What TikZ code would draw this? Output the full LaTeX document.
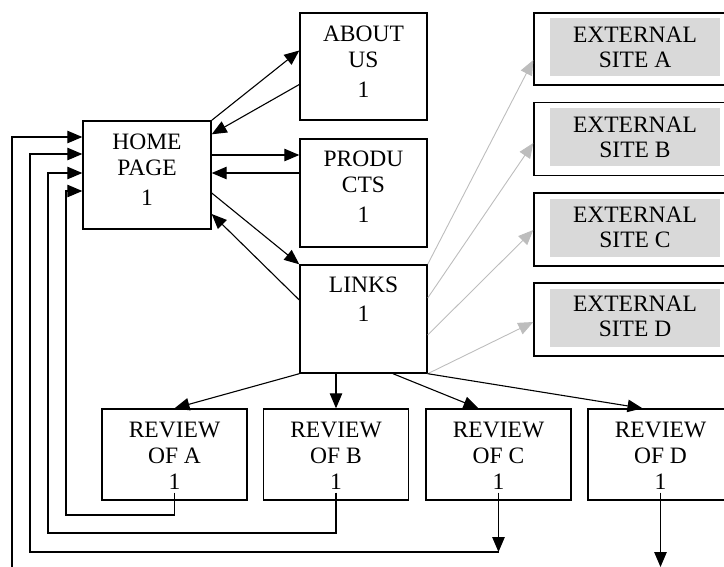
\documentclass[tikz,border=0pt]{standalone}
\usepackage{fontspec}
\setmainfont{Liberation Serif}
\usetikzlibrary{arrows.meta}
\definecolor{extfill}{HTML}{D9D9D9}
\definecolor{extline}{HTML}{BDBDBD}
\begin{document}
\begin{tikzpicture}[x=1pt,y=-1pt,
  box/.style={draw=black, line width=1.4pt, inner sep=0pt, fill=white},
  graybox/.style={fill=extfill, draw=none, inner sep=0pt, minimum width=170pt, minimum height=58pt},
  lbl/.style={inner sep=0pt, align=center, anchor=north, font=\fontsize{23.5}{26}\selectfont},
  arr/.style={draw=black, line width=1.1pt, -{Triangle[length=15pt,width=12.5pt]}},
  garr/.style={draw=extline, line width=0.9pt, -{Triangle[length=15pt,width=12.5pt]}},
  plain/.style={draw=black, line width=1pt}]
\useasboundingbox (0,0) rectangle (724,566);
\clip (0,0) rectangle (724,566);
% main boxes
\node[box, minimum width=128pt, minimum height=108pt] (home) at (147,175) {};
\node[box, minimum width=127pt, minimum height=107pt] (about) at (363.5,66.5) {};
\node[box, minimum width=127pt, minimum height=108pt] (prod) at (363.5,193) {};
\node[box, minimum width=127pt, minimum height=108pt] (links) at (363.5,319) {};
\node[lbl] (homeT) at ([yshift=-13.5pt]home.north) {HOME\\PAGE\\[4pt]1};
\node[lbl] (aboutT) at ([yshift=-13.5pt]about.north) {ABOUT\\US\\[4pt]1};
\node[lbl] (prodT) at ([yshift=-12.5pt]prod.north) {PRODU\\CTS\\[4pt]1};
\node[lbl] (linksT) at ([yshift=-12.5pt]links.north) {LINKS\\[3pt]1};
% external sites
\node[box, minimum width=202pt, minimum height=72pt] (extA) at (635,49) {};
\node[box, minimum width=202pt, minimum height=73pt] (extB) at (635,139) {};
\node[box, minimum width=202pt, minimum height=73pt] (extC) at (635,229.5) {};
\node[box, minimum width=202pt, minimum height=73pt] (extD) at (635,319.5) {};
\node[graybox] (gA) at (635,47) {};
\node[graybox] (gB) at (635,137) {};
\node[graybox] (gC) at (635,227.5) {};
\node[graybox] (gD) at (635,318) {};
\node[lbl] (extAT) at ([yshift=-14.5pt]extA.north) {EXTERNAL\\[-1pt]SITE A};
\node[lbl] (extBT) at ([yshift=-14.5pt]extB.north) {EXTERNAL\\[-1pt]SITE B};
\node[lbl] (extCT) at ([yshift=-14pt]extC.north) {EXTERNAL\\[-1pt]SITE C};
\node[lbl] (extDT) at ([yshift=-13.5pt]extD.north) {EXTERNAL\\[-1pt]SITE D};
% reviews
\node[box, minimum width=145pt, minimum height=91pt] (revA) at (174.5,454.5) {};
\node[box, minimum width=145pt, minimum height=91pt] (revB) at (336,454.5) {};
\node[box, minimum width=145pt, minimum height=91pt] (revC) at (498.5,454.5) {};
\node[box, minimum width=145pt, minimum height=91pt] (revD) at (660.5,454.5) {};
\node[lbl] (revAT) at ([yshift=-13.5pt]revA.north) {REVIEW\\OF A\\1};
\node[lbl] (revBT) at ([yshift=-13.5pt]revB.north) {REVIEW\\OF B\\1};
\node[lbl] (revCT) at ([yshift=-13.5pt]revC.north) {REVIEW\\OF C\\1};
\node[lbl] (revDT) at ([yshift=-13.5pt]revD.north) {REVIEW\\OF D\\1};
% home <-> pages
\draw[arr] (home.north east) -- ([yshift=16pt]about.west);
\draw[arr] ([yshift=-18pt]about.west) -- ([yshift=-14pt]home.north east);
\draw[arr] ([yshift=20pt]home.east) -- ([yshift=38pt]prod.west);
\draw[arr] ([yshift=20pt]prod.west) -- ([yshift=2pt]home.east);
\draw[arr] ([yshift=-18pt]home.east) -- (links.north west);
\draw[arr] ([yshift=19pt]links.west) -- ([yshift=-39pt]home.east);
% links -> external
\draw[garr] (links.north east) -- ([yshift=-11pt]extA.west);
\draw[garr] ([yshift=21pt]links.east) -- ([yshift=-4pt]extB.west);
\draw[garr] ([yshift=-16pt]links.east) -- ([yshift=-0.5pt]extC.west);
\draw[garr] (links.south east) -- ([yshift=-2.5pt]extD.west);
% links -> reviews
\draw[arr] (links.south west) -- (revA.north);
\draw[arr] (revB.north |- links.south) -- (revB.north);
\draw[arr] ([xshift=29.5pt]links.south) -- ([xshift=-20pt]revC.north);
\draw[arr] (links.south east) -- ([xshift=-18pt]revD.north);
% return paths
\coordinate (lA) at (66,515);
\coordinate (lB) at (48,533);
\coordinate (cC) at (498.5,552);
\coordinate (lC) at (30,552);
\coordinate (cD) at (660.5,567);
\coordinate (lD) at (12,571);
\draw[arr] ([yshift=8pt]revA.south) |- (lA) |- ([yshift=-16pt]home.west);
\draw[arr] ([yshift=8pt]revB.south) |- (lB) |- ([yshift=2pt]home.west);
\draw[arr] ([yshift=8pt]revC.south) -- (cC);
\draw[arr] (cC) -- (lC) |- ([yshift=21pt]home.west);
\draw[arr] ([yshift=8pt]revD.south) -- (cD);
\draw[arr] (cD) |- (lD) |- ([yshift=38pt]home.west);
\end{tikzpicture}
\end{document}
